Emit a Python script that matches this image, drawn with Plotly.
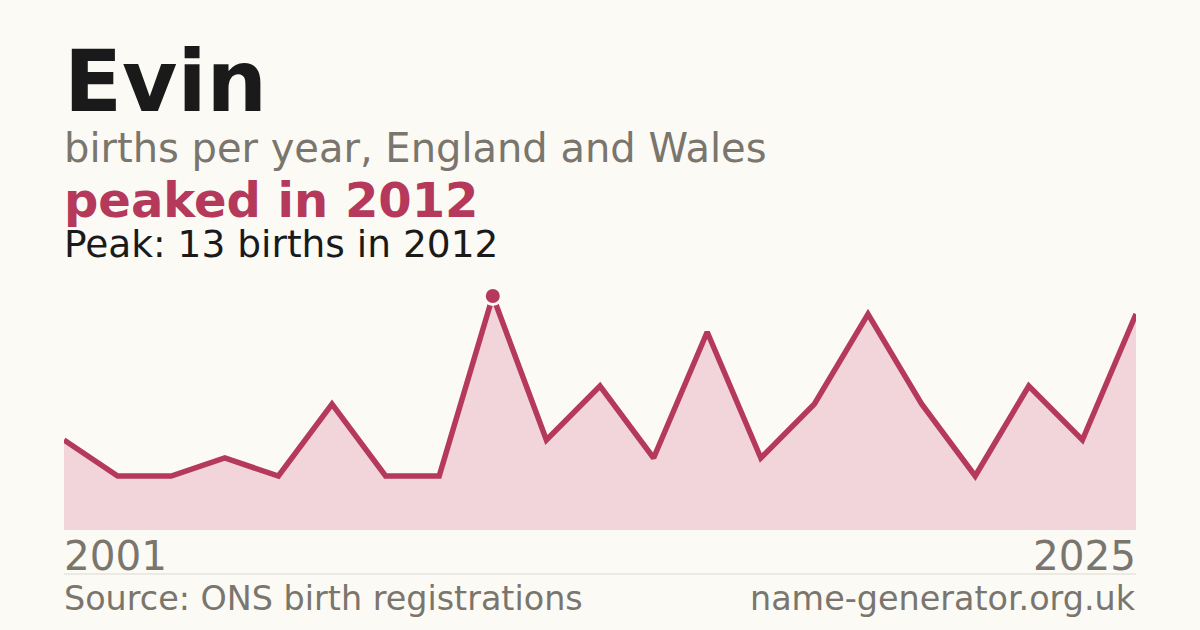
import plotly.graph_objects as go

name = "Evin"
years = [2001, 2003, 2004, 2006, 2007, 2009, 2010, 2011, 2012, 2013, 2014,
         2015, 2016, 2017, 2018, 2019, 2021, 2022, 2023, 2024, 2025]
births = [5, 3, 3, 4, 3, 7, 3, 3, 13, 5, 8, 4, 11, 4, 7, 12, 7, 3, 8, 5, 12]
peak_year = 2012
peak_value = 13

BG = "#fbfaf5"
ACCENT = "#b5395a"
FILL = "#f2d5db"
GREY = "#7a756d"
DARK = "#1a1a1a"
FONT = "DejaVu Sans"

W, H = 1200, 630
L, R, T, B = 64, 64, 278, 100
PW, PH = W - L - R, H - T - B


def px(x):
    return (x - L) / PW


def py(y):
    return (H - B - y) / PH


xcat = [str(y) for y in years]

fig = go.Figure()
fig.add_trace(go.Scatter(
    x=xcat, y=births, mode="lines", fill="tozeroy",
    fillcolor=FILL, line=dict(color=ACCENT, width=5.5),
    hoverinfo="skip", showlegend=False))
fig.add_trace(go.Scatter(
    x=[str(peak_year)], y=[peak_value], mode="markers",
    marker=dict(size=17, color=ACCENT, line=dict(color=BG, width=3)),
    hoverinfo="skip", showlegend=False))

fig.update_layout(
    width=W, height=H,
    paper_bgcolor=BG, plot_bgcolor=BG,
    margin=dict(l=L, r=R, t=T, b=B),
    font=dict(family=FONT),
    xaxis=dict(type="category", range=[0, len(years) - 1], visible=False,
               fixedrange=True),
    yaxis=dict(range=[0, 14], visible=False, fixedrange=True),
)

# (text, x, baseline y, size, colour, anchor)
texts = [
    (f"<b>{name}</b>", 63, 108, 85, DARK, "left"),
    ("births per year, England and Wales", 63, 161, 40, GREY, "left"),
    (f"<b>peaked in {peak_year}</b>", 63, 216, 48, ACCENT, "left"),
    (f"Peak: {peak_value} births in {peak_year}", 63, 256, 37.5, DARK, "left"),
    (str(years[0]), 63, 570, 40.5, GREY, "left"),
    (str(years[-1]), 1137, 570, 40.5, GREY, "right"),
    ("Source: ONS birth registrations", 63, 610, 33.4, GREY, "left"),
    ("name-generator.org.uk", 1137, 610, 33.4, GREY, "right"),
]
for text, x, yb, size, color, anchor in texts:
    fig.add_annotation(
        text=text, xref="paper", yref="paper",
        x=px(x), y=py(yb), xanchor=anchor, yanchor="bottom",
        showarrow=False, borderpad=0,
        font=dict(family=FONT, size=size, color=color),
        yshift=-round(size * 0.28))

fig.add_shape(type="line", xref="paper", yref="paper",
              x0=px(64), x1=px(1136), y0=py(574), y1=py(574),
              line=dict(color="#dcd9d2", width=1))

fig.write_html("out.html", config={"displayModeBar": False},
               post_script="document.body.style.margin='0';"
                           "document.body.style.background='" + BG + "';")
